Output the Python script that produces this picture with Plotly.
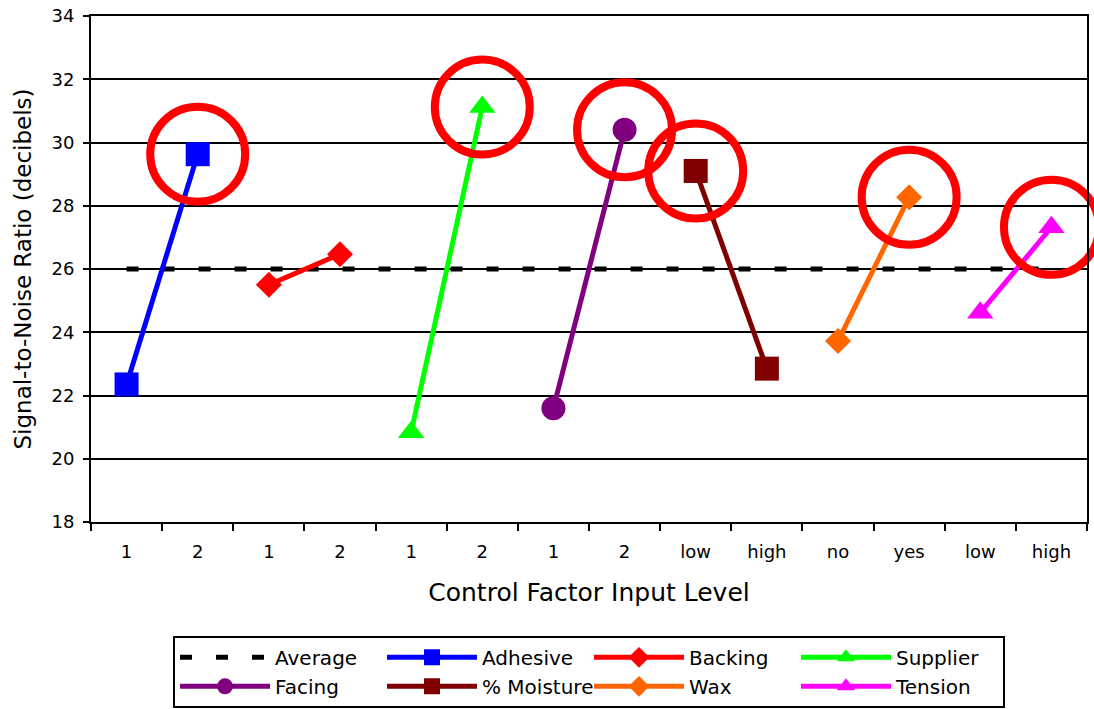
import plotly.graph_objects as go

# ---- data ----
level_labels = ["1", "2", "1", "2", "1", "2", "1", "2", "low", "high", "no", "yes", "low", "high"]
factors = ["Adhesive", "Backing", "Supplier", "Facing", "% Moisture", "Wax", "Tension"]
adhesive = [22.35, 29.63]
backing = [25.50, 26.47]
supplier = [20.84, 31.12]
facing = [21.60, 30.40]
moisture = [29.10, 22.85]
wax = [23.72, 28.27]
tension = [24.62, 27.32]
average = 26.0
# factors whose best level is circled in the reference
circled = [True, False, True, True, True, True, True]

series = [adhesive, backing, supplier, facing, moisture, wax, tension]
colors = ["#0000FF", "#FF0000", "#00FF00", "#800080", "#800000", "#FF6600", "#FF00FF"]
symbols = ["square", "diamond", "triangle-up", "circle", "square", "diamond", "triangle-up"]
sizes = [24, 20, 23, 24, 24, 20, 23]

FONT = "DejaVu Sans"
fig = go.Figure()

xpos = list(range(len(level_labels)))

fig.add_trace(go.Scatter(
    x=[xpos[0], xpos[-1]], y=[average, average], mode="lines", name="Average",
    line=dict(color="black", width=5, dash="12px,24px"),
))

hx, hy = [], []
for i, (name, vals) in enumerate(zip(factors, series)):
    xs = xpos[2 * i:2 * i + 2]
    fig.add_trace(go.Scatter(
        x=xs, y=vals, mode="lines+markers", name=name,
        line=dict(color=colors[i], width=5),
        marker=dict(symbol=symbols[i], size=sizes[i], color=colors[i]),
    ))
    if circled[i]:
        k = 0 if vals[0] >= vals[1] else 1
        hx.append(xs[k])
        hy.append(vals[k])

fig.add_trace(go.Scatter(
    x=hx, y=hy, mode="markers", showlegend=False, cliponaxis=False,
    marker=dict(symbol="circle-open", size=95, color="#FF0000",
                line=dict(width=8, color="#FF0000")),
    hoverinfo="skip",
))

fig.update_layout(
    width=1094, height=709,
    margin=dict(l=91, r=7, t=16, b=187, autoexpand=False),
    paper_bgcolor="white", plot_bgcolor="white",
    font=dict(family=FONT, color="black", size=18),
    showlegend=True,
    legend=dict(
        orientation="h", x=0.5, xanchor="center", y=-0.225, yanchor="top",
        bordercolor="black", borderwidth=2, bgcolor="white",
        font=dict(family=FONT, size=20, color="black"),
        itemwidth=90, entrywidth=102, entrywidthmode="pixels",
        traceorder="normal",
    ),
)

fig.update_xaxes(
    range=[-0.5, len(level_labels) - 0.5],
    tickmode="array", tickvals=xpos, ticktext=level_labels,
    ticks="", showgrid=False, zeroline=False,
    showline=True, linecolor="black", linewidth=2, mirror=True,
    tickfont=dict(family=FONT, size=18, color="black"),
    ticklabelstandoff=12,
    minor=dict(tickmode="array", tickvals=[v - 0.5 for v in xpos] + [xpos[-1] + 0.5],
               ticks="outside", ticklen=7, tickwidth=2, tickcolor="black", showgrid=False),
    title=dict(text="Control Factor Input Level", font=dict(family=FONT, size=25, color="black"),
               standoff=23),
)

fig.update_yaxes(
    range=[18, 34], dtick=2, tick0=18,
    showgrid=True, gridcolor="black", gridwidth=1.5, zeroline=False,
    showline=True, linecolor="black", linewidth=2, mirror=True,
    ticks="outside", ticklen=6, tickwidth=2, tickcolor="black",
    tickfont=dict(family=FONT, size=18, color="black"),
    ticklabelstandoff=5,
    title=dict(text="Signal-to-Noise Ratio (decibels)", font=dict(family=FONT, size=23, color="black"),
               standoff=13),
)

fig.write_html("out.html")
